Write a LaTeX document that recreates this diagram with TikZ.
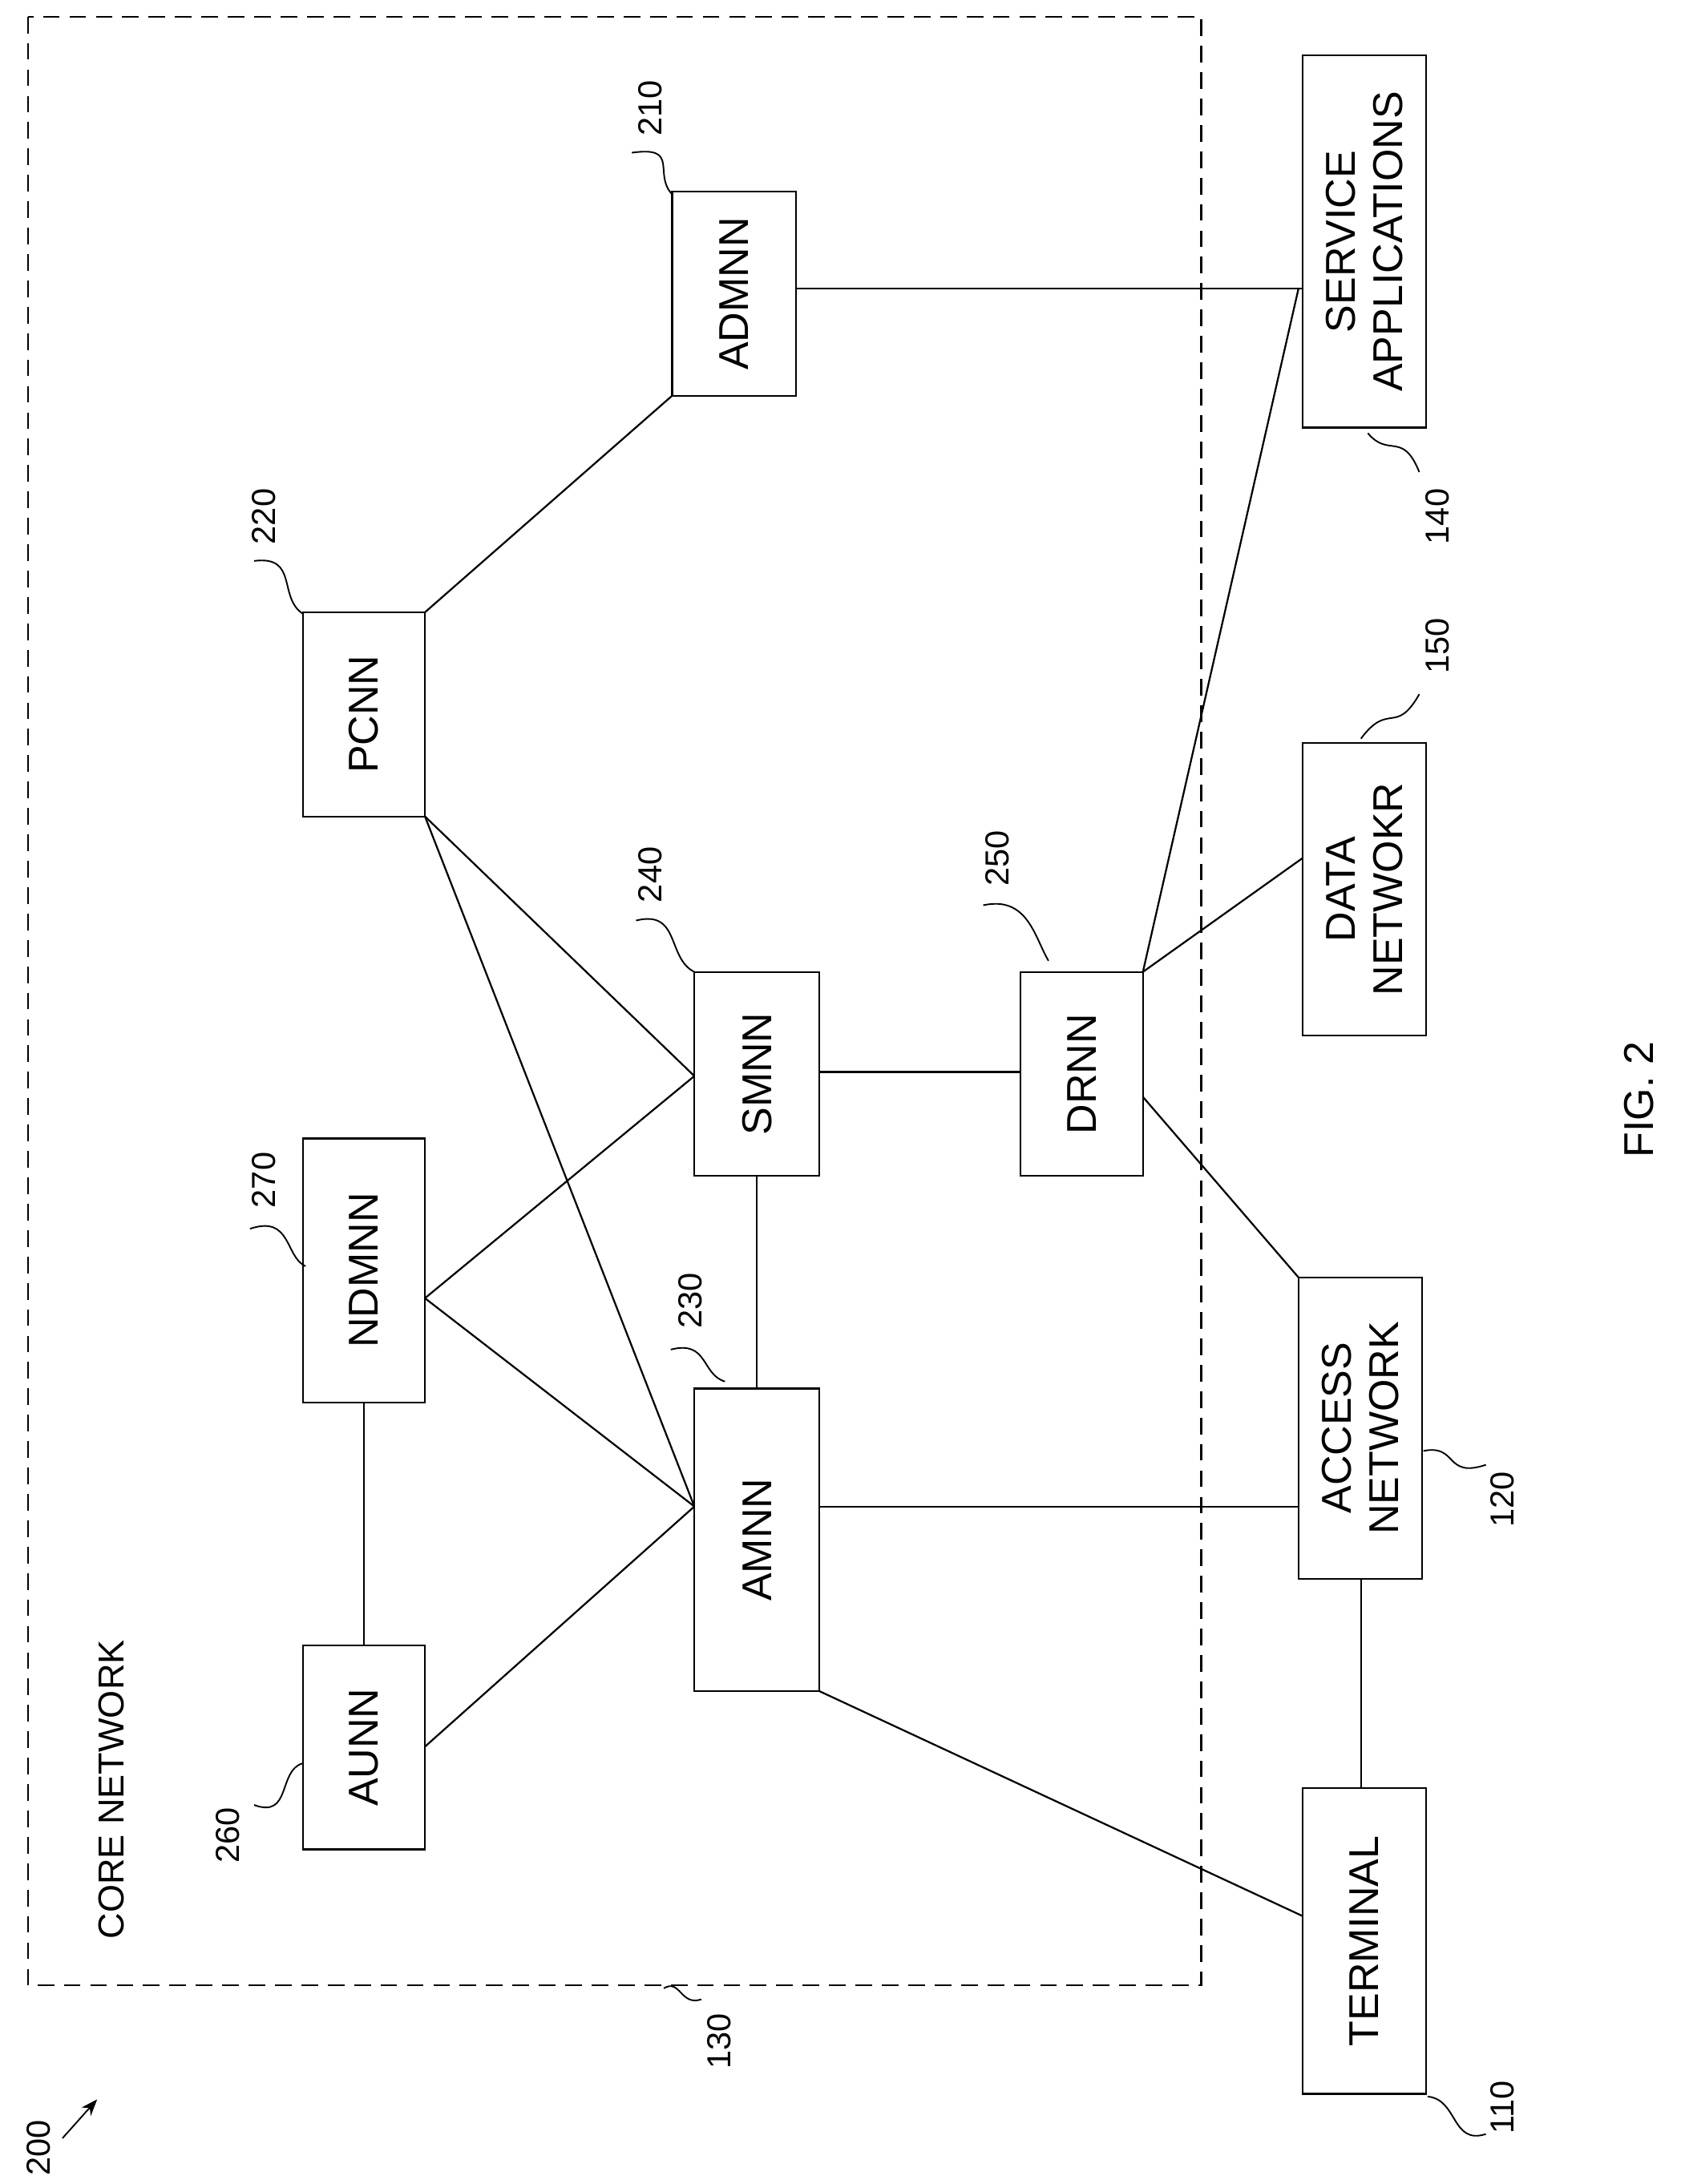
\documentclass[tikz,border=0pt]{standalone}
\usepackage{fontspec}
\usetikzlibrary{arrows.meta}
\setmainfont{Liberation Sans}
\begin{document}
\begin{tikzpicture}[x=1pt,y=-1pt,
  box/.style={draw,line width=1.3pt,inner sep=0pt},
  lbl/.style={rotate=90,font=\fontsize{30}{34}\selectfont,align=center},
  num/.style={rotate=90,font=\fontsize{24}{28}\selectfont},
  ln/.style={line width=1.3pt},
  ld/.style={line width=1.1pt}]
\useasboundingbox (0,0) rectangle (1210,1573);
\draw[ln,dash pattern=on 12pt off 7pt] (20,12) rectangle (865,1430);
\node[num,font=\fontsize{26}{30}\selectfont,anchor=west] (cn) at (80,1400) {CORE NETWORK};
% boxes
\newcommand{\bx}[6]{\draw[box] (#2,#3) rectangle (#4,#5); \node[lbl] (#1) at ({(#2+#4)/2},{(#3+#5)/2}) {#6};
 \coordinate (#1-nw) at (#2,#3); \coordinate (#1-se) at (#4,#5);}
\bx{adm}{484}{138}{573}{285}{ADMNN}
\bx{sa}{938}{40}{1027}{308}{SERVICE\\APPLICATIONS}
\bx{pc}{218}{441}{306}{588}{PCNN}
\bx{sm}{500}{700}{590}{847}{SMNN}
\bx{dr}{735}{700}{823}{847}{DRNN}
\bx{dn}{938}{535}{1027}{746}{DATA\\NETWOKR}
\bx{nd}{218}{820}{306}{1010}{NDMNN}
\bx{am}{500}{1000}{590}{1218}{AMNN}
\bx{an}{935}{920}{1024}{1137}{ACCESS\\NETWORK}
\bx{au}{218}{1185}{306}{1332}{AUNN}
\bx{te}{938}{1288}{1027}{1508}{TERMINAL}
% connectors
\draw[ln] (573,208) -- (938,208);
\draw[ln] (484,285) -- (306,441);
\draw[ln] (306,588) -- (500,775);
\draw[ln] (306,588) -- (500,1085);
\draw[ln] (306,935) -- (500,775);
\draw[ln] (306,935) -- (500,1085);
\draw[ln] (262,1010) -- (262,1185);
\draw[ln] (306,1258) -- (500,1085);
\draw[ln] (545,847) -- (545,1000);
\draw[ln] (590,772) -- (735,772);
\draw[ln] (823,700) -- (935,208);
\draw[ln] (823,700) -- (938,618);
\draw[ln] (823,790) -- (935,920);
\draw[ln] (590,1085) -- (935,1085);
\draw[ln] (980,1137) -- (980,1288);
\draw[ln] (590,1218) -- (938,1380);
% reference numerals
\node[num] (n210) at (468,78) {210};
\draw[ld] (455,110) .. controls (490,105) and (470,125) .. (484,140);
\node[num] (n220) at (190,372) {220};
\draw[ld] (183,404) .. controls (215,400) and (200,430) .. (218,442);
\node[num] (n240) at (468,630) {240};
\draw[ld] (458,663) .. controls (490,655) and (480,690) .. (500,700);
\node[num] (n250) at (718,618) {250};
\draw[ld] (708,652) .. controls (740,645) and (745,675) .. (755,692);
\node[num] (n270) at (190,850) {270};
\draw[ld] (180,885) .. controls (210,875) and (205,905) .. (220,912);
\node[num] (n230) at (497,937) {230};
\draw[ld] (483,972) .. controls (510,965) and (505,990) .. (522,995);
\node[num] (n260) at (164,1322) {260};
\draw[ld] (183,1300) .. controls (210,1310) and (200,1275) .. (218,1270);
\node[num] (n140) at (1035,372) {140};
\draw[ld] (1022,340) .. controls (1010,310) and (1000,330) .. (985,312);
\node[num] (n150) at (1035,465) {150};
\draw[ld] (1022,500) .. controls (1005,530) and (1000,505) .. (980,532);
\node[num] (n120) at (1082,1080) {120};
\draw[ld] (1070,1055) .. controls (1040,1065) and (1050,1040) .. (1025,1045);
\node[num] (n110) at (1082,1518) {110};
\draw[ld] (1070,1537) .. controls (1045,1545) and (1050,1512) .. (1028,1510);
\node[num] (n130) at (518,1470) {130};
\draw[ld] (505,1440) .. controls (490,1445) and (490,1425) .. (478,1432);
\node[num] (n200) at (28,1547) {200};
\coordinate (a200) at (70,1512);
\draw[ld,-{Stealth[length=12pt]}] (45,1540) -- (a200);
\node[lbl] (fig) at (1180,792) {FIG. 2};
\end{tikzpicture}
\end{document}
